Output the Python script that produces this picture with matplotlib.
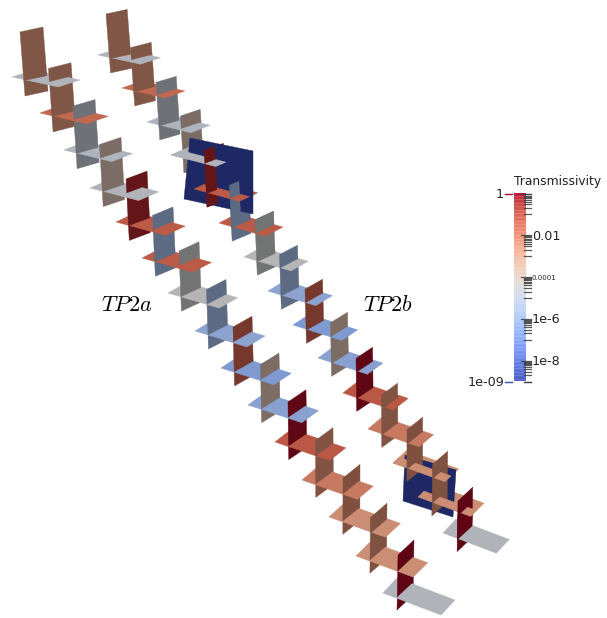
"""Fracture chains TP2a / TP2b coloured by transmissivity (scene rendering)."""

import matplotlib

matplotlib.use("Agg")
import matplotlib.pyplot as plt
import numpy as np
from matplotlib.colors import LogNorm
from matplotlib.patches import Polygon

plt.rcParams["mathtext.fontset"] = "cm"

# transmissivity of the upright and the flat fracture at each junction
UPRIGHT_T = [3e-3, 3e-3, 1.6e-5, 1.3e-4, 0.5, 1.6e-6, 3e-5, 1.6e-6,
             0.045, 1.6e-4, 0.8, 4e-3, 6e-3, 5e-3, 0.9]
FLAT_T = [2e-5, 0.02, 1.6e-5, 2e-5, 0.04, 0.04, 3e-5, 1e-6,
          4e-7, 8e-7, 0.05, 7e-3, 2e-3, 2e-3, 2e-5]
BLOCK_T = 1e-9

# junctions, in pixels
A_X = [12, 40, 64, 90, 116, 142, 168, 195, 221, 248, 275, 302, 329, 356, 383]
A_Y = [77, 113, 150, 188, 222, 258, 293, 331, 368, 405, 442, 480, 517, 556, 593]
B_X = [98, 122, 147, 171, 194, 219, 244, 268, 293, 318, 343, 368, 393, 418, 443]
B_Y = [55, 88, 122, 155, 189, 223, 257, 291, 325, 358, 393, 429, 463, 497, 533]

BLOCK_1 = [(190, 138), (253, 151), (253, 214), (184, 199)]
BLOCK_2 = [(405, 455), (456, 470), (453, 517), (403, 501)]

BAR_LABELS = ["0.01", "0.0001", "1e-6", "1e-8"]
BAR_LABEL_T = [1e-2, 1e-4, 1e-6, 1e-8]

T_MIN, T_MAX = 1e-9, 1.0
UPRIGHT_SHADE = 0.52
FLAT_SHADE = 0.82
T2 = 0.76

cmap = plt.get_cmap("coolwarm")
norm = LogNorm(T_MIN, T_MAX)


def shade(t, factor):
    r, g, b, _ = cmap(norm(t))
    return (r * factor, g * factor, b * factor)


def lerp(a, b, f):
    return np.array(a) + (np.array(b) - np.array(a)) * f


class Chain:
    def __init__(self, xs, ys, scale, offs_start, offs_end):
        self.n = len(xs)
        self.upright = []
        self.flats = []
        self.t1 = []
        for i in range(self.n):
            f = i / (self.n - 1)
            left = np.array([xs[i], ys[i]], dtype=float)
            u = lerp((46, 10), (58, 22), f) * scale
            v = lerp((22, -7), (14, -15), f) * scale
            w = lerp((23, -5), (16, -15), f) * scale
            h = lerp((5, 64), (-1, 55), f) * scale
            tl = left + lerp(offs_start, offs_end, f)
            self.upright.append((tl, w, h, shade(UPRIGHT_T[i], UPRIGHT_SHADE)))
            self.flats.append((left, u, v, shade(FLAT_T[i], FLAT_SHADE)))
            self.t1.append(0.2 + 0.09 * f)

    def part(self, i, t0, t1, s1=1.0):
        tl, w, h, c = self.upright[i]
        pts = [tl + h * t0, tl + w * s1 + h * t0, tl + w * s1 + h * t1, tl + h * t1]
        return pts, c

    def top(self, i, s1=1.0):
        return self.part(i, 0.0, self.t1[i], s1)

    def mid(self, i, s1=1.0):
        return self.part(i, self.t1[i], T2, s1)

    def bot(self, i, s1=1.0):
        return self.part(i, T2, 1.0, s1)

    def flat(self, i, f=1.0):
        left, u, v, c = self.flats[i]
        return [left, left + v * f, left + u + v * f, left + u], c


def add(ax, shape, z):
    pts, color = shape
    ax.add_patch(
        Polygon(np.array(pts), closed=True, facecolor=color, edgecolor=color,
                linewidth=0.3, zorder=z)
    )


def draw_chain(ax, chain, z, blocks=None, low=None):
    """Paint low to high, far to near. A block cuts the flats and uprights around it."""
    blocks = blocks or {}
    pending_front = {}
    hidden = low or set()
    n = chain.n

    def put(shape):
        nonlocal z
        add(ax, shape, z)
        z += 0.01

    for name, idx in sorted(hidden):
        add(ax, getattr(chain, name)(idx), z - 1)

    for i in range(n - 1, -1, -1):
        if ("bot", i) not in hidden:
            put(chain.bot(i))
        if i + 1 < n and ("mid", i + 1) not in hidden:
            put(chain.mid(i + 1))
        if i + 2 < n and ("top", i + 2) not in hidden:
            put(chain.top(i + 2))

        # the part of an upright that stands in front of a block
        if i + 1 in blocks and blocks[i + 1][1] < 1.0:
            put(chain.mid(i + 1, blocks[i + 1][1]))
        if i + 2 in blocks and blocks[i + 2][1] < 1.0:
            put(chain.top(i + 2, blocks[i + 2][1]))
        if i + 1 in blocks and blocks[i + 1][2] < 1.0:
            put(chain.top(i + 2, blocks[i + 1][2]))

        if i in blocks:
            pts, s_this, s_next, front = blocks[i]
            put(chain.flat(i))
            put(chain.flat(i - 1))
            put((pts, shade(BLOCK_T, UPRIGHT_SHADE)))
            put(chain.bot(i, s_this))
            if i + 1 < n:
                put(chain.mid(i + 1, s_next))
            if i + 2 < n:
                put(chain.top(i + 2))
            put(chain.flat(i, front))
            pending_front[i - 1] = front
        elif i in pending_front:
            put(chain.flat(i, pending_front[i]))
        else:
            put(chain.flat(i))

    put(chain.part(0, 0.0, T2))
    put(chain.top(1))
    return z


fig = plt.figure(figsize=(6.07, 6.18), dpi=100)
ax = fig.add_axes([0, 0, 1, 1])

chain_a = Chain(A_X, A_Y, 1.0, (8, -45), (15, -38))
chain_b = Chain(B_X, B_Y, 0.92, (8, -41), (15, -32))
next_z = draw_chain(ax, chain_a, 2.0)
draw_chain(
    ax,
    chain_b,
    next_z + 2.0,
    blocks={4: (BLOCK_1, 0.55, 0.5, 0.55), 13: (BLOCK_2, 1.0, 1.0, 0.45)},
    low={("bot", 3), ("mid", 3), ("bot", 4), ("mid", 4), ("top", 4), ("top", 5)},
)

ax.text(127, 305, r"$\mathit{TP2a}$", fontsize=16, ha="center", va="center", color="black")
ax.text(388, 305, r"$\mathit{TP2b}$", fontsize=16, ha="center", va="center", color="black")

# colour bar
bar_left, bar_right = 513.5, 525.5
y_top, y_bottom = 193.5, 381.5


def bar_y(t):
    return y_top + (y_bottom - y_top) * (np.log10(T_MAX) - np.log10(t)) / (
        np.log10(T_MAX) - np.log10(T_MIN)
    )


grad = np.linspace(1, 0, 256).reshape(-1, 1)
ax.imshow(grad, cmap=cmap, aspect="auto", extent=(bar_left, bar_right, y_bottom, y_top),
          zorder=50, interpolation="nearest", alpha=0.92)
for yy in np.arange(y_top + 2, y_bottom, 3.6):
    ax.plot([bar_left, bar_right], [yy, yy], color="white", lw=0.8, alpha=0.16, zorder=51)

tick_color = "#3c3c3c"
for k in [0, -2, -4, -6, -8]:
    for m in [1.0, 0.9, 0.8, 0.7, 0.6, 0.5, 0.4, 0.3, 0.2, 0.1]:
        yy = bar_y(m * 10.0**k)
        x0 = 520.5 if m == 1.0 else 524
        ax.plot([x0, 530.5], [yy, yy], color=tick_color, lw=0.9, zorder=52, alpha=0.85)
ax.plot([524, 530.5], [y_bottom, y_bottom], color=tick_color, lw=0.9, zorder=52, alpha=0.85)
ax.plot([505, 512], [y_top, y_top], color=shade(T_MAX, 1.0), lw=1, zorder=52)
ax.plot([505, 512], [y_bottom, y_bottom], color=shade(T_MIN, 1.0), lw=1, zorder=52)

ax.text(514, 181, "Transmissivity", fontsize=8.8, ha="left", va="center", color="#222222")
ax.text(504, 195, "1", fontsize=9.2, ha="right", va="center", color="#222222")
ax.text(504, 382, "1e-09", fontsize=9.2, ha="right", va="center", color="#222222")
for t, lab in zip(BAR_LABEL_T, BAR_LABELS):
    size = 5 if lab == "0.0001" else 9.2
    ax.text(532, bar_y(t) + 1, lab, fontsize=size, ha="left", va="center", color="#222222")

ax.set_xlim(0, 607)
ax.set_ylim(618, 0)
ax.axis("off")
fig.savefig("out.png", dpi=100)
